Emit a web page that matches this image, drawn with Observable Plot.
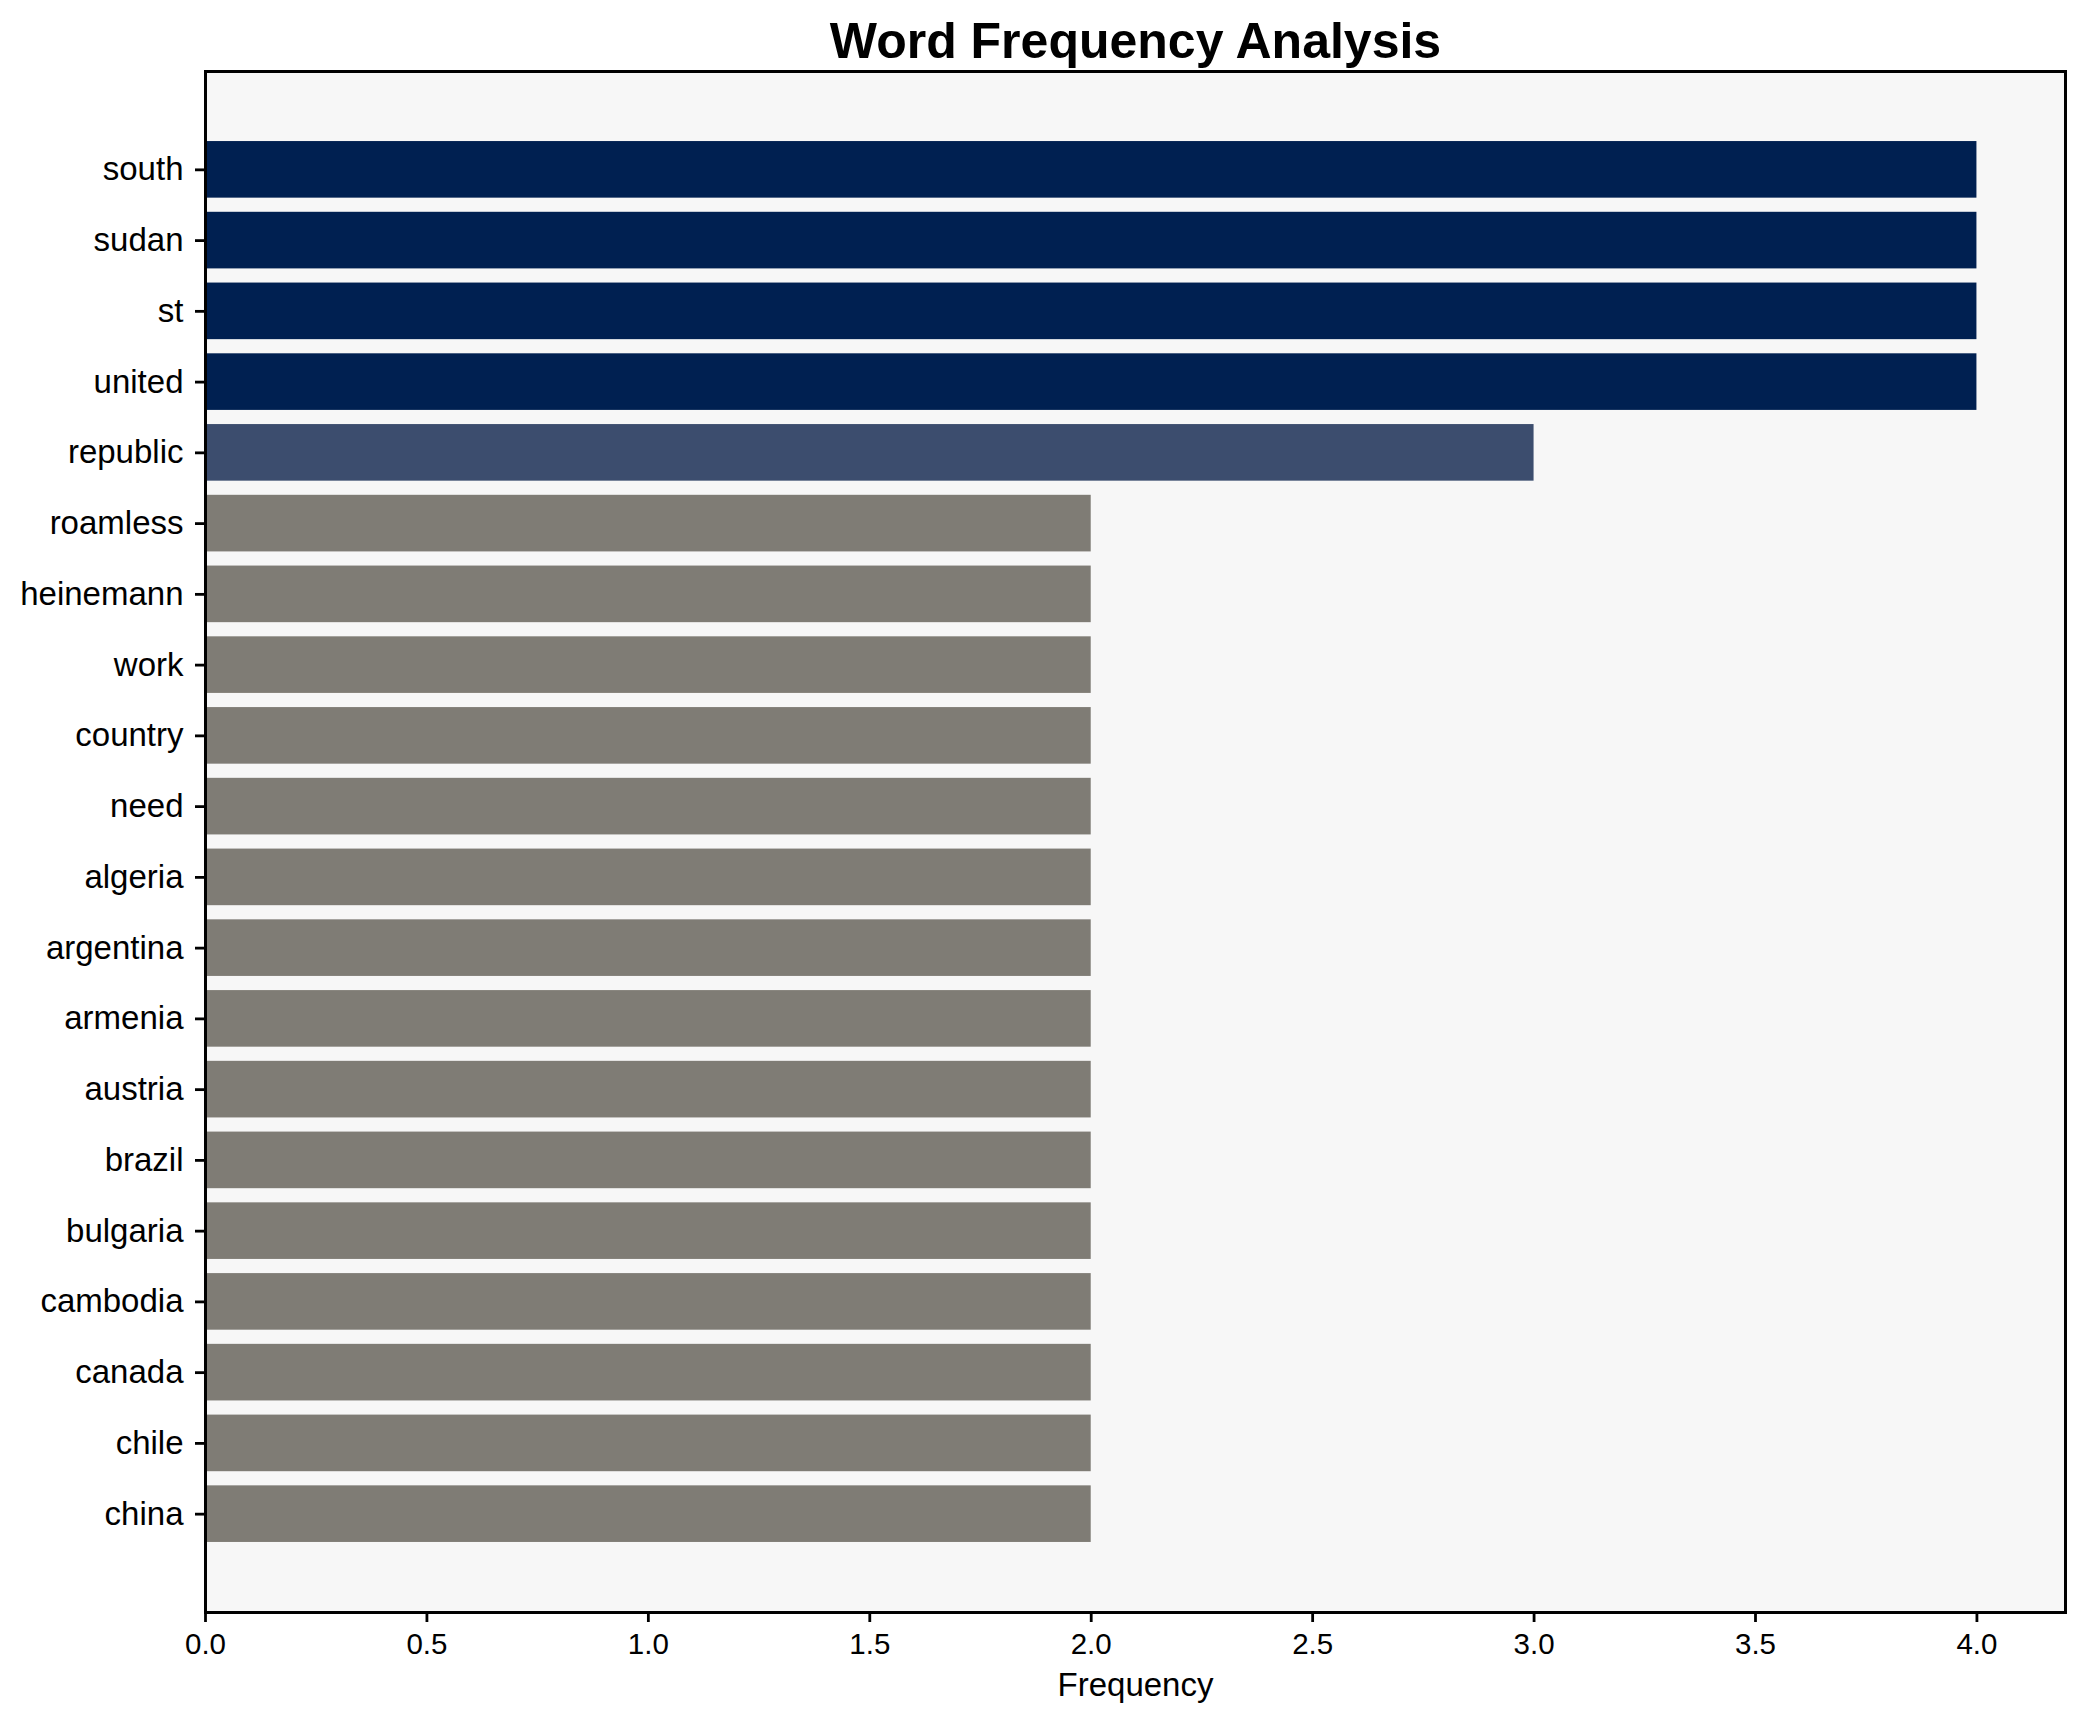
<!DOCTYPE html>
<html><head><meta charset="utf-8">
<script src="https://cdn.jsdelivr.net/npm/d3@7"></script>
<script src="https://cdn.jsdelivr.net/npm/@observablehq/plot@0.6"></script>
<style>body{margin:0;background:#fff;} svg{display:block}</style>
</head><body><div id="chart"></div>
<script>
const words = ["south","sudan","st","united","republic","roamless","heinemann","work","country","need","algeria","argentina","armenia","austria","brazil","bulgaria","cambodia","canada","chile","china"];
const counts = [4,4,4,4,3,2,2,2,2,2,2,2,2,2,2,2,2,2,2,2];
const xTicks = [0,0.5,1,1.5,2,2.5,3,3.5,4];
const titleText = "Word Frequency Analysis";
const xLabel = "Frequency";

const data = words.map((w, i) => ({word: w, count: counts[i]}));
const font = "'Liberation Sans', Arial, Helvetica, sans-serif";

const chart = Plot.plot({
  width: 2084, height: 1722,
  marginLeft: 205, marginRight: 19, marginTop: 71, marginBottom: 110,
  style: {fontFamily: font, background: "#ffffff", color: "#000"},
  x: {domain: [0, 4.2], axis: null},
  y: {domain: words, paddingInner: 0.2, paddingOuter: 0.99, round: false, axis: null},
  color: {type: "linear", scheme: "cividis", domain: [0, 4], reverse: true},
  marks: [
    Plot.frame({fill: "#f7f7f7", stroke: "none"}),
    Plot.barX(data, {x: "count", y: "word", fill: "count"}),
    Plot.frame({stroke: "#000", strokeWidth: 3}),
    Plot.axisX({ticks: xTicks, tickFormat: d => d.toFixed(1), tickSize: 10, tickPadding: 11, strokeWidth: 2.8, fontSize: 29.5, label: null}),
    Plot.axisY({tickSize: 10, tickPadding: 12, strokeWidth: 2.8, fontSize: 33, label: null}),
    Plot.text([titleText], {frameAnchor: "top", dy: -14, lineAnchor: "bottom", fontSize: 50, fontWeight: "bold", text: d => d, fill: "#000"}),
    Plot.text([xLabel], {frameAnchor: "bottom", dy: 83, lineAnchor: "bottom", fontSize: 33, text: d => d, fill: "#000"})
  ]
});
document.getElementById("chart").appendChild(chart);
</script>
</body></html>
